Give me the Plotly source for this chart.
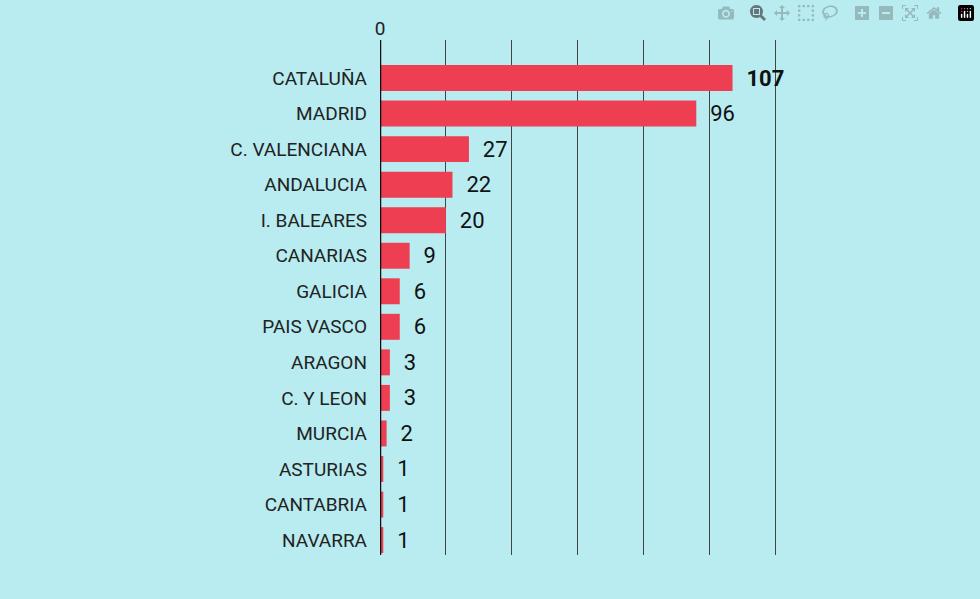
import plotly.graph_objects as go

regions = ["CATALUÑA","MADRID","C. VALENCIANA","ANDALUCIA","I. BALEARES","CANARIAS","GALICIA",
           "PAIS VASCO","ARAGON","C. Y LEON","MURCIA","ASTURIAS","CANTABRIA","NAVARRA"]
values = [107,96,27,22,20,9,6,6,3,3,2,1,1,1]
labels = ["  <b>107</b>"] + ["  " + str(v) for v in values[1:]]
ticks = [0,20,40,60,80,100,120]
tick_text = ["0","","","","","",""]

fig = go.Figure(go.Bar(
    x=values, y=list(range(len(regions))), orientation="h",
    marker=dict(color="#ee3e52", line=dict(width=0)),
    text=labels, textposition="outside", cliponaxis=False,
    textfont=dict(size=22, color="#111", family="Roboto"),
    width=0.73,
))
fig.update_layout(
    width=980, height=599, paper_bgcolor="#b8ecf0", plot_bgcolor="#b8ecf0",
    margin=dict(l=380, r=203, t=40, b=44), showlegend=False,
    font=dict(family="Roboto", color="#222"),
    xaxis=dict(range=[0,120.5], side="top", tickvals=ticks, ticktext=tick_text,
               showgrid=True, gridcolor="#444", gridwidth=1, zeroline=False,
               tickfont=dict(size=19), ticks="", showline=False),
    yaxis=dict(range=[13.42,-1.07], tickvals=list(range(len(regions))), ticktext=regions,
               tickfont=dict(size=19, color="#222"), showgrid=False, zeroline=False,
               ticks="", ticklabelstandoff=12),
)
fig.add_shape(type="line", xref="x", yref="paper", x0=0, x1=0, y0=0, y1=1,
              line=dict(color="#111", width=2.5))
fig.write_html("out.html",
               post_script="document.body.style.margin='0';document.body.style.overflow='hidden';")
